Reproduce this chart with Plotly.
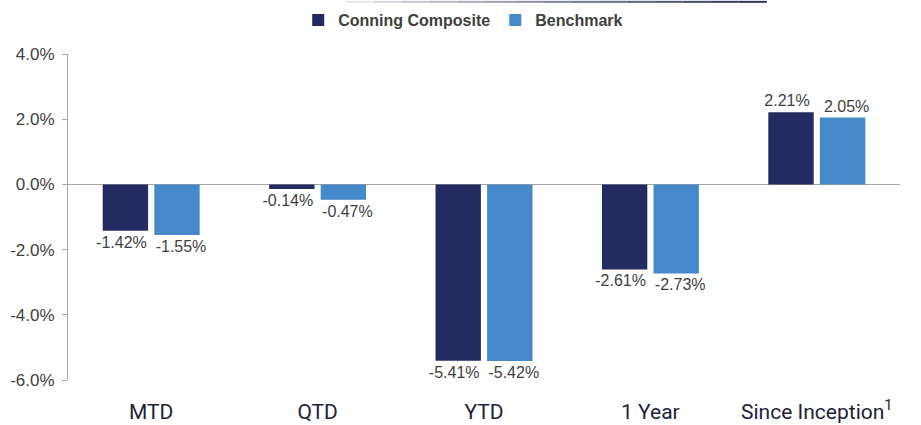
import plotly.graph_objects as go

categories = ["MTD", "QTD", "YTD", "1 Year", "Since Inception"]
tick_labels = ["MTD", "QTD", "YTD", "1 Year", "Since Inception<sup>1</sup>"]
composite = [-1.42, -0.14, -5.41, -2.61, 2.21]
benchmark = [-1.55, -0.47, -5.42, -2.73, 2.05]
series_names = ["Conning Composite", "Benchmark"]
y_ticks = [-6, -4, -2, 0, 2, 4]
y_tick_labels = ["-6.0%", "-4.0%", "-2.0%", "0.0%", "2.0%", "4.0%"]

NAVY = "#232B60"
BLUE = "#4589C8"
LABEL = "#404040"
FONT = "Liberation Sans, Arial, sans-serif"
PAD = "\u2002"

fig = go.Figure()
for idx, (name, vals, col) in enumerate([(series_names[0], composite, NAVY),
                                         (series_names[1], benchmark, BLUE)]):
    if idx == 0:
        texts = [f"{v:.2f}%" + PAD for v in vals]
    else:
        texts = [PAD + f"{v:.2f}%" for v in vals]
    fig.add_trace(go.Bar(
        x=categories, y=vals, name=name, marker_color=col,
        marker_line_width=0,
        text=texts, textposition="outside",
        constraintext="none", cliponaxis=False,
        textfont=dict(family=FONT, size=16, color=LABEL),
    ))

# decorative gradient line at top
n = 16
x0, x1 = 0.30, 0.84
for i in range(n):
    t = (i / (n - 1)) ** 0.8
    c = (int(255 - t * (255 - 0x30)), int(255 - t * (255 - 0x35)), int(255 - t * (255 - 0x5c)))
    fig.add_shape(type="line", xref="paper", yref="paper",
                  x0=x0 + (x1 - x0) * i / n, x1=x0 + (x1 - x0) * (i + 1) / n,
                  y0=1.160, y1=1.160,
                  line=dict(color=f"rgb{c}", width=2))

fig.update_layout(
    width=921, height=425,
    margin=dict(l=68, r=21, t=54, b=45, autoexpand=False),
    paper_bgcolor="white", plot_bgcolor="white",
    barmode="group", bargap=0.38, bargroupgap=0.12,
    showlegend=True,
    legend=dict(orientation="h", x=0.475, xanchor="center", yref="container",
                y=1 - 20 / 425, yanchor="middle",
                font=dict(family=FONT, size=16, color=LABEL, weight="bold"),
                itemwidth=30, traceorder="normal"),
    font=dict(family=FONT),
    xaxis=dict(tickvals=categories, ticktext=tick_labels, showline=False, ticks="",
               tickfont=dict(family="Roboto, sans-serif", size=21, color="#1C2238"),
               showgrid=False, ticklabelstandoff=17, automargin=False),
    yaxis=dict(range=[-6, 4], tickvals=y_ticks, ticktext=y_tick_labels,
               showgrid=False, showline=True, linecolor="#A6A6A6", linewidth=1,
               ticks="outside", ticklen=5, tickcolor="#A6A6A6",
               zeroline=True, zerolinecolor="#A6A6A6", zerolinewidth=1,
               automargin=False, ticklabelstandoff=4,
               tickfont=dict(family=FONT, size=17, color=LABEL)),
)

fig.write_html("out.html", post_script="document.body.style.margin='0';",
               config={"displayModeBar": False})
